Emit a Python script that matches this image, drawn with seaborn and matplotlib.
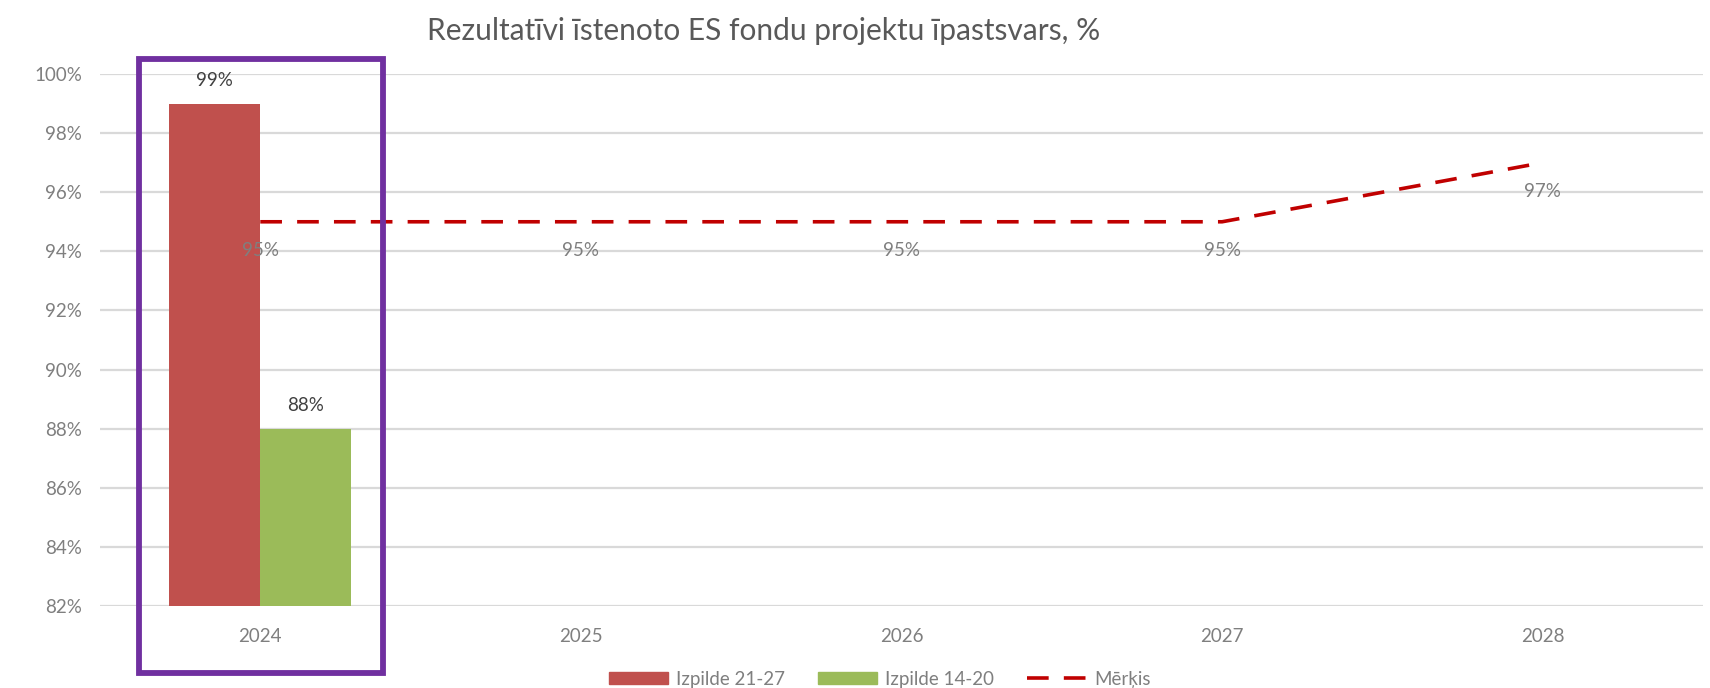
import numpy as np
import pandas as pd
import matplotlib
matplotlib.use("Agg")
import matplotlib.pyplot as plt
from matplotlib.patches import Rectangle
from matplotlib.lines import Line2D
import seaborn as sns

# data (values in %)
years = ["2024", "2025", "2026", "2027", "2028"]
izpilde_21_27 = [99, None, None, None, None]
izpilde_14_20 = [88, None, None, None, None]
merkis = [95, 95, 95, 95, 97]
series_names = ["Izpilde 21-27", "Izpilde 14-20", "Mērķis"]
y_ticks = [82, 84, 86, 88, 90, 92, 94, 96, 98, 100]
title = "Rezultatīvi īstenoto ES fondu projektu īpastsvars, %"

bar_colors = ["#C0504D", "#9BBB59"]
line_color = "#C00000"
fs = 13.5

sns.set_style("white")
plt.rcParams["font.family"] = ["Lato", "DejaVu Sans"]

# long table for the bars
rows = []
for yr, a, b in zip(years, izpilde_21_27, izpilde_14_20):
    if a is not None:
        rows.append({"year": yr, "series": series_names[0], "value": a})
    if b is not None:
        rows.append({"year": yr, "series": series_names[1], "value": b})
df = pd.DataFrame(rows)

fig = plt.figure(figsize=(17.1, 6.88), dpi=100)
ax = fig.add_axes([100 / 1710, 1 - 606 / 688, 1603 / 1710, 532 / 688])

sns.barplot(data=df, x="year", y="value", hue="series", order=years,
            hue_order=series_names[:2], palette=bar_colors, width=0.568,
            saturation=1, linewidth=0, ax=ax, legend=False)

# target line, dashed
xpos = np.arange(len(years))
dash = (0, (6.0, 4.2))
ax.plot(xpos, merkis, color=line_color, lw=2.6, linestyle=dash,
        solid_capstyle="butt", zorder=3)

ax.set_ylim(82, 100)
ax.set_xlim(-0.5, len(years) - 0.5)
ax.set_yticks(y_ticks)
ax.set_yticklabels([f"{t}%" for t in y_ticks])
ax.yaxis.grid(True, color="#D9D9D9", lw=1.6)
ax.set_axisbelow(True)
for s in ax.spines.values():
    s.set_visible(False)
ax.tick_params(axis="both", length=0, labelsize=fs, labelcolor="#7F7F7F")
ax.tick_params(axis="y", pad=13)
ax.tick_params(axis="x", pad=16)
ax.set_xlabel("")
ax.set_ylabel("")

# bar value labels
for cont in ax.containers:
    for rect in cont:
        h = rect.get_height()
        if np.isnan(h):
            continue
        ax.annotate(f"{h:.0f}%", (rect.get_x() + rect.get_width() / 2, h),
                    xytext=(0, 16.5), textcoords="offset points",
                    ha="center", va="center", fontsize=fs, color="#404040")

# line value labels
for x, v in zip(xpos, merkis):
    ax.annotate(f"{v}%", (x, v), xytext=(0, -21), textcoords="offset points",
                ha="center", va="center", fontsize=fs, color="#7F7F7F")

fig.text(764 / 1710, 1 - 31 / 688, title, ha="center", va="center",
         fontsize=21.5, color="#595959")

# highlight frame around 2024
fig.patches.append(Rectangle((139 / 1710, 1 - 673 / 688), 244 / 1710, 614 / 688,
                             transform=fig.transFigure, fill=False,
                             edgecolor="#7030A0", lw=4.2))

handles = [Rectangle((0, 0), 1, 1, color=bar_colors[0]),
           Rectangle((0, 0), 1, 1, color=bar_colors[1]),
           Line2D([0], [0], color=line_color, lw=2.6, linestyle=dash)]
fig.legend(handles, series_names, loc="center", ncol=3,
           bbox_to_anchor=(880 / 1710, 1 - 679 / 688), frameon=False,
           fontsize=fs, labelcolor="#7F7F7F", handlelength=3.15,
           handleheight=0.6, handletextpad=0.43, columnspacing=1.76)

fig.savefig("out.png", dpi=100)
